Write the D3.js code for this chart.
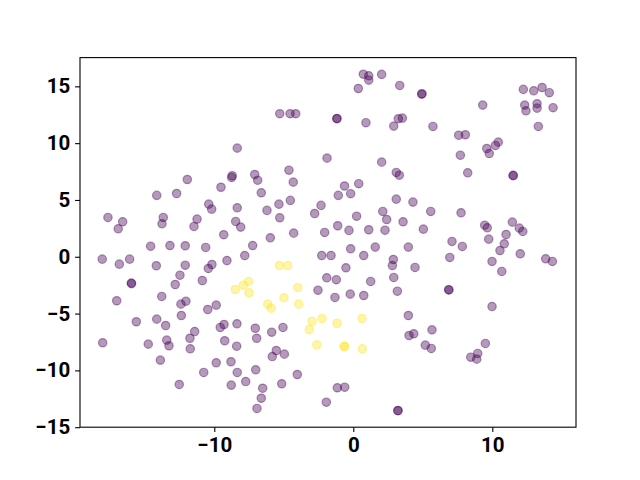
<!DOCTYPE html>
<html>
<head>
<meta charset="utf-8">
<script src="https://cdn.jsdelivr.net/npm/d3@7"></script>
<style>
  html, body { margin: 0; padding: 0; background: #fff; }
  svg { display: block; }
  .tick text { font-family: Roboto, "DejaVu Sans", sans-serif; font-weight: 700; font-size: 20.5px; fill: #000; }
  .tick line { stroke: #000; stroke-width: 1.1; }
  .domain { display: none; }
</style>
</head>
<body>
<svg id="chart" width="640" height="480"></svg>
<script>
/* Nuage de points en deux classes (violet / jaune) */

const class0X = [-8.35,-11.94,-8.71,-8.75,-9.52,0.72,1.11,1.11,2.04,0.36,3.34,-5.29,-4.55,-4.14,-1.19,-1.17,0.91,3.24,3.53,2.91,
  -1.89,2.04,-7.09,-6.88,-4.63,-4.32,-0.63,0.39,3.09,3.31,4.92,4.94,5.73,9.31,12.23,12.98,13.58,14.10,12.33,12.42,
  13.22,13.22,14.37,13.31,7.58,8.06,7.70,9.60,9.78,10.22,10.43,8.23,11.51,11.49,-14.14,-12.71,-17.65,-16.59,-16.91,-13.67,
  -13.76,-10.40,-10.19,-8.35,-11.24,-11.46,-8.46,-8.10,-9.32,-14.58,-13.19,-12.09,-10.62,-18.06,-16.83,-16.09,-14.17,-12.09,-10.17,-10.43,
  -9.09,-7.81,-12.47,-15.97,-15.95,-12.81,-10.86,-17.02,-13.78,-12.40,-12.04,-10.47,-9.86,-6.62,-1.08,-0.19,-5.35,-4.53,-2.32,-2.78,
  -6.21,-5.29,3.09,4.29,0.24,2.12,2.40,3.58,-5.97,-4.29,-2.06,-1.12,-0.31,1.11,2.28,-7.24,-2.27,-1.60,-0.19,0.75,
  1.58,2.88,2.81,3.96,-0.53,-1.91,-1.22,1.25,2.91,-2.54,-1.32,-0.22,0.75,3.17,5.57,7.75,5.04,7.10,7.84,6.94,
  4.44,6.86,6.88,9.45,9.64,11.44,11.94,12.19,10.99,9.74,10.86,10.55,12.01,9.98,10.68,13.84,14.32,9.98,-15.61,-14.14,
  -13.50,-12.37,-9.57,-9.30,-8.37,-18.03,-14.75,-13.42,-13.26,-11.75,-11.41,-11.73,-9.25,-8.39,-13.88,-9.86,-8.80,-10.76,-8.35,-12.52,
  -8.78,-7.74,-7.05,-6.95,-5.87,-5.06,-5.54,-5.83,-4.96,-7.02,-6.52,-5.15,-4.03,-6.62,-6.93,-1.15,-0.62,-1.94,3.22,3.20,
  3.96,4.01,4.35,5.66,5.18,5.61,9.50,8.45,8.95,8.88];
const class0Y = [9.56,6.80,7.13,6.98,6.12,16.07,15.93,15.55,16.05,14.81,15.08,12.59,12.59,12.59,12.15,12.17,11.80,12.15,12.20,11.50,
  8.68,8.33,7.24,6.74,7.62,6.57,6.23,6.43,7.42,7.18,14.31,14.35,11.47,13.35,14.73,14.61,14.90,14.44,13.35,12.85,
  13.47,13.08,13.12,11.47,10.70,10.74,8.94,9.53,9.09,9.80,10.09,7.39,7.16,7.14,5.40,5.57,3.46,3.08,2.46,3.46,
  2.90,4.63,4.19,4.31,3.31,2.67,3.11,2.61,1.94,0.93,0.99,0.97,0.82,-0.21,-0.65,-0.21,-0.79,-0.74,-0.68,-1.03,
  -0.33,0.11,-1.62,-2.32,-2.36,-2.44,-2.09,-3.87,-3.49,-4.17,-3.91,-4.64,-4.26,5.63,5.40,5.55,4.63,4.96,4.52,3.81,
  4.08,3.43,5.07,4.81,3.57,3.99,3.28,3.08,1.67,2.08,2.14,2.73,2.32,2.38,2.34,0.99,0.11,0.11,0.70,0.11,
  0.85,-0.24,-0.77,0.85,-0.97,-1.85,-2.02,-2.17,-1.82,-2.94,-3.58,-3.29,-3.41,-3.03,3.99,3.87,2.43,1.35,0.91,-0.06,
  -0.94,-2.90,-2.92,2.78,2.55,3.05,2.52,2.23,1.96,1.55,1.14,0.55,0.26,-0.41,-1.29,-0.18,-0.41,-4.38,-5.72,-5.49,
  -6.05,-5.17,-6.22,-5.96,-5.90,-7.57,-7.69,-7.34,-7.83,-7.17,-6.58,-8.10,-7.39,-7.87,-9.10,-9.33,-9.24,-10.18,-10.18,-11.24,
  -11.30,-10.98,-6.29,-7.17,-6.64,-6.22,-8.25,-8.78,-8.57,-9.95,-11.57,-11.18,-10.36,-12.45,-13.35,-11.53,-11.48,-12.80,-13.53,-13.55,
  -5.17,-6.93,-6.78,-6.43,-7.78,-8.07,-7.63,-8.84,-8.51,-9.01];

const class1X = [-8.49,-7.91,-7.54,-7.50,-5.32,-4.72,-4.00,-4.99,-3.93,-6.16,-5.90,-2.97,-2.25,-1.17,-3.17,0.63,-2.63,-0.67,-0.62,0.65];
const class1Y = [-2.88,-2.50,-2.17,-3.17,-0.77,-0.77,-2.70,-3.61,-4.17,-4.17,-4.52,-5.67,-5.43,-5.85,-6.40,-5.43,-7.75,-7.87,-7.90,-8.10];

const xTicks = [-10, 0, 10];
const yTicks = [-15, -10, -5, 0, 5, 10, 15];

const margin = { left: 80, right: 64, top: 57.6, bottom: 52.8 };
const W = 640, H = 480;
const iw = W - margin.left - margin.right;
const ih = H - margin.top - margin.bottom;

const x = d3.scaleLinear().domain([-19.66, 16.02]).range([0, iw]);
const y = d3.scaleLinear().domain([-15, 17.53]).range([ih, 0]);

const svg = d3.select("#chart");
const g = svg.append("g").attr("transform", `translate(${margin.left},${margin.top})`);

const fmt = d => String(d).replace("-", "\u2212");

g.append("g")
  .attr("transform", `translate(0,${ih})`)
  .call(d3.axisBottom(x).tickValues(xTicks).tickFormat(fmt).tickSize(4.9).tickPadding(4.9));

g.append("g")
  .call(d3.axisLeft(y).tickValues(yTicks).tickFormat(fmt).tickSize(4.9).tickPadding(4.9));

const pts = [];
class0X.forEach((v, i) => pts.push({ x: v, y: class0Y[i], c: "#440154" }));
class1X.forEach((v, i) => pts.push({ x: v, y: class1Y[i], c: "#fde725" }));

g.append("g").selectAll("circle")
  .data(pts)
  .enter()
  .append("circle")
  .attr("cx", d => x(d.x))
  .attr("cy", d => y(d.y))
  .attr("r", 4.2)
  .attr("fill", d => d.c)
  .attr("fill-opacity", 0.4)
  .attr("stroke", d => d.c)
  .attr("stroke-opacity", 0.4)
  .attr("stroke-width", 1.2);

g.append("rect")
  .attr("width", iw)
  .attr("height", ih)
  .attr("fill", "none")
  .attr("stroke", "#000")
  .attr("stroke-width", 1.1);
</script>
</body>
</html>
